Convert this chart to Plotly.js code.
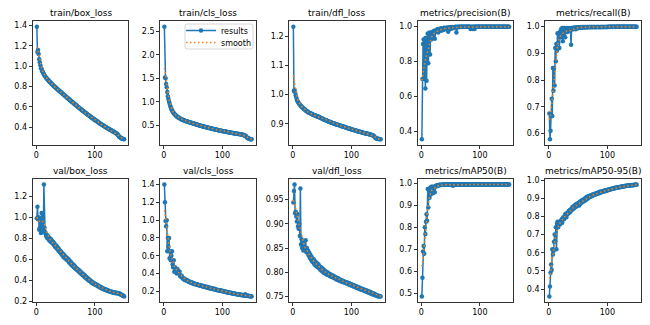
<!DOCTYPE html>
<html>
<head>
<meta charset="utf-8">
<script src="https://cdn.plot.ly/plotly-3.0.1.min.js"></script>
<style>html,body{margin:0;padding:0;background:#fff;}#chart{width:650px;height:325px;}</style>
</head>
<body>
<div id="chart"></div>
<script>
const titles = ["train/box_loss","train/cls_loss","train/dfl_loss","metrics/precision(B)","metrics/recall(B)",
                "val/box_loss","val/cls_loss","val/dfl_loss","metrics/mAP50(B)","metrics/mAP50-95(B)"];
const epochs = Array.from({length:150}, (_, i) => i + 1);
const xTicks = [0, 100];

const trainBox = [1.39,1.14,1.16,1.12,1.07,1.04,1.01,0.98,0.975,0.95,
0.945,0.93,0.925,0.91,0.905,0.895,0.885,0.88,0.872,0.865,
0.862,0.853,0.846,0.842,0.835,0.828,0.824,0.816,0.812,0.806,
0.80,0.796,0.79,0.783,0.781,0.774,0.77,0.766,0.759,0.755,
0.751,0.744,0.741,0.735,0.729,0.726,0.719,0.716,0.71,0.704,
0.701,0.694,0.69,0.686,0.679,0.676,0.669,0.666,0.66,0.654,
0.651,0.645,0.641,0.634,0.631,0.625,0.621,0.616,0.613,0.606,
0.602,0.597,0.593,0.587,0.583,0.578,0.574,0.568,0.565,0.56,
0.556,0.55,0.547,0.541,0.538,0.532,0.529,0.523,0.521,0.515,
0.511,0.506,0.503,0.497,0.494,0.489,0.486,0.48,0.478,0.472,
0.47,0.464,0.462,0.456,0.454,0.448,0.446,0.44,0.438,0.433,
0.431,0.425,0.423,0.417,0.416,0.41,0.408,0.403,0.401,0.396,
0.394,0.389,0.387,0.382,0.38,0.375,0.373,0.369,0.367,0.362,
0.36,0.356,0.353,0.349,0.347,0.342,0.339,0.334,0.329,0.322,
0.312,0.305,0.301,0.296,0.293,0.29,0.288,0.285,0.284,0.281];

const trainCls = [2.60,1.52,1.50,1.38,1.31,1.21,1.12,1.06,1.01,0.96,
0.92,0.88,0.85,0.82,0.80,0.78,0.76,0.745,0.73,0.72,
0.705,0.695,0.685,0.675,0.67,0.66,0.652,0.645,0.638,0.632,
0.625,0.62,0.614,0.61,0.604,0.6,0.595,0.59,0.586,0.582,
0.578,0.574,0.57,0.566,0.562,0.558,0.554,0.55,0.546,0.542,
0.538,0.534,0.53,0.526,0.522,0.518,0.515,0.511,0.507,0.503,
0.5,0.496,0.493,0.489,0.486,0.482,0.479,0.476,0.472,0.469,
0.466,0.463,0.459,0.456,0.453,0.45,0.447,0.444,0.441,0.438,
0.435,0.432,0.429,0.426,0.423,0.42,0.417,0.414,0.411,0.408,
0.405,0.402,0.399,0.397,0.394,0.391,0.388,0.386,0.383,0.38,
0.378,0.375,0.373,0.37,0.368,0.365,0.363,0.36,0.358,0.356,
0.353,0.351,0.349,0.346,0.344,0.342,0.34,0.337,0.335,0.333,
0.331,0.329,0.327,0.325,0.323,0.321,0.319,0.317,0.315,0.313,
0.311,0.309,0.306,0.303,0.3,0.296,0.292,0.287,0.281,0.272,
0.256,0.243,0.234,0.226,0.22,0.215,0.211,0.208,0.205,0.203];

const trainDfl = [1.232,1.012,1.016,1.008,0.998,0.99,0.982,0.978,0.975,0.971,
0.968,0.966,0.963,0.961,0.959,0.957,0.955,0.953,0.951,0.95,
0.948,0.946,0.945,0.943,0.942,0.94,0.939,0.938,0.937,0.936,
0.935,0.934,0.933,0.932,0.931,0.93,0.929,0.929,0.928,0.927,
0.926,0.925,0.925,0.924,0.923,0.922,0.921,0.92,0.919,0.918,
0.917,0.916,0.915,0.914,0.913,0.912,0.912,0.911,0.91,0.909,
0.908,0.907,0.907,0.906,0.905,0.904,0.904,0.903,0.902,0.901,
0.901,0.9,0.899,0.899,0.898,0.897,0.897,0.896,0.895,0.895,
0.894,0.893,0.893,0.892,0.891,0.891,0.89,0.889,0.889,0.888,
0.887,0.887,0.886,0.885,0.885,0.884,0.883,0.883,0.882,0.881,
0.881,0.88,0.88,0.879,0.878,0.878,0.877,0.877,0.876,0.875,
0.875,0.874,0.874,0.873,0.873,0.872,0.871,0.871,0.87,0.87,
0.869,0.869,0.868,0.868,0.867,0.867,0.866,0.866,0.865,0.865,
0.864,0.864,0.863,0.863,0.862,0.861,0.86,0.859,0.857,0.855,
0.852,0.851,0.85,0.849,0.849,0.848,0.848,0.848,0.847,0.847];

const precision = [0.355,0.70,0.90,0.925,0.70,0.93,0.645,0.935,0.69,0.85,
0.96,0.79,0.955,0.965,0.84,0.95,0.925,0.96,0.97,0.94,
0.965,0.975,0.93,0.97,0.975,0.98,0.97,0.985,0.965,0.98,
0.985,0.98,0.988,0.975,0.99,0.985,0.99,0.98,0.992,0.988,
0.985,0.993,0.99,0.988,0.994,0.97,0.992,0.995,0.99,0.985,
0.996,0.993,0.997,0.99,0.995,0.996,0.994,0.998,0.997,0.965,
0.997,0.998,0.996,0.998,0.997,0.999,0.998,0.997,0.999,0.998,
0.999,0.998,0.999,0.997,0.999,0.998,0.999,0.999,0.998,0.999,
0.999,0.998,0.999,0.985,0.999,0.988,0.999,0.986,0.998,0.999,
0.985,0.999,0.998,0.999,0.999,0.998,0.999,0.999,0.999,0.998,
0.999,0.999,0.998,0.999,0.999,0.999,0.998,0.999,0.999,0.999,
0.999,0.998,0.999,0.999,0.999,0.998,0.999,0.999,0.999,0.999,
0.998,0.999,0.999,0.999,0.999,0.998,0.999,0.999,0.999,0.999,
0.999,0.999,0.998,0.999,0.999,0.999,0.999,0.999,0.998,0.999,
0.999,0.999,0.999,0.999,0.999,0.998,0.999,0.999,0.999,0.999];

const recall = [0.675,0.578,0.61,0.67,0.73,0.665,0.845,0.76,0.845,0.78,
0.92,0.87,0.935,0.91,0.975,0.94,0.97,0.92,0.98,0.96,
0.99,0.97,0.995,0.945,0.99,0.97,0.995,0.96,0.99,0.985,
0.995,0.98,0.99,0.993,0.985,0.995,0.99,0.932,0.995,0.99,
0.995,0.99,0.997,0.993,0.996,0.99,0.997,0.995,0.998,0.994,
0.998,0.996,0.998,0.997,0.999,0.996,0.998,0.999,0.997,0.999,
0.998,0.999,0.997,0.999,0.998,0.999,0.999,0.998,0.999,0.999,
0.998,0.999,0.999,0.999,0.998,0.999,0.999,0.999,0.999,0.998,
0.999,0.999,0.999,0.999,0.999,0.999,0.998,0.999,0.999,0.999,
0.999,0.999,0.999,0.999,0.999,0.999,0.999,0.999,0.999,0.999,
1.0,0.999,1.0,1.0,0.999,1.0,1.0,1.0,0.999,1.0,
1.0,1.0,1.0,0.999,1.0,1.0,1.0,1.0,1.0,1.0,
1.0,1.0,1.0,1.0,1.0,1.0,1.0,1.0,1.0,1.0,
1.0,1.0,1.0,1.0,1.0,1.0,1.0,1.0,1.0,1.0,
1.0,1.0,1.0,1.0,1.0,1.0,1.0,1.0,1.0,1.0];

const valBox = [0.99,1.10,0.98,1.00,0.88,0.90,0.99,0.85,1.04,0.87,
1.03,0.86,1.31,0.90,0.86,0.84,0.82,0.83,0.80,0.82,
0.81,0.78,0.80,0.77,0.79,0.76,0.775,0.75,0.765,0.735,
0.75,0.72,0.735,0.71,0.725,0.695,0.71,0.68,0.695,0.67,
0.68,0.655,0.67,0.64,0.655,0.625,0.645,0.615,0.63,0.605,
0.62,0.595,0.61,0.585,0.6,0.57,0.585,0.56,0.575,0.545,
0.56,0.535,0.55,0.525,0.54,0.515,0.525,0.505,0.515,0.495,
0.505,0.485,0.495,0.475,0.485,0.465,0.475,0.455,0.465,0.445,
0.455,0.435,0.445,0.425,0.435,0.415,0.425,0.405,0.415,0.395,
0.405,0.39,0.395,0.38,0.387,0.372,0.38,0.365,0.372,0.36,
0.366,0.355,0.36,0.348,0.352,0.341,0.345,0.335,0.339,0.329,
0.333,0.323,0.327,0.318,0.321,0.312,0.316,0.307,0.312,0.303,
0.307,0.299,0.302,0.295,0.298,0.291,0.294,0.288,0.291,0.285,
0.288,0.282,0.285,0.28,0.283,0.278,0.281,0.276,0.279,0.274,
0.276,0.271,0.273,0.266,0.265,0.26,0.258,0.253,0.251,0.247];

const valCls = [1.40,1.20,0.99,0.93,1.00,0.65,0.80,0.70,0.80,0.57,
0.65,0.55,0.60,0.65,0.50,0.47,0.55,0.42,0.47,0.45,
0.44,0.40,0.45,0.41,0.43,0.40,0.42,0.37,0.38,0.36,
0.37,0.35,0.34,0.345,0.33,0.335,0.325,0.33,0.32,0.315,
0.32,0.31,0.305,0.31,0.30,0.298,0.295,0.30,0.29,0.288,
0.285,0.29,0.28,0.283,0.278,0.275,0.28,0.27,0.272,0.268,
0.265,0.27,0.262,0.26,0.265,0.255,0.258,0.252,0.25,0.255,
0.248,0.245,0.25,0.242,0.24,0.244,0.238,0.235,0.24,0.232,
0.23,0.234,0.228,0.225,0.23,0.222,0.22,0.224,0.218,0.215,
0.218,0.212,0.21,0.214,0.208,0.206,0.21,0.204,0.202,0.205,
0.2,0.198,0.2,0.195,0.193,0.196,0.19,0.188,0.19,0.186,
0.184,0.186,0.182,0.18,0.182,0.177,0.175,0.177,0.173,0.172,
0.174,0.17,0.168,0.17,0.166,0.164,0.166,0.162,0.16,0.163,
0.158,0.157,0.16,0.155,0.154,0.156,0.152,0.151,0.165,0.153,
0.15,0.149,0.151,0.147,0.146,0.148,0.145,0.144,0.143,0.142];

const valDfl = [0.944,0.968,0.981,0.922,0.925,0.915,0.905,0.92,0.895,0.89,
0.90,0.875,0.973,0.857,0.868,0.85,0.862,0.845,0.855,0.85,
0.848,0.866,0.842,0.85,0.84,0.845,0.835,0.84,0.83,0.836,
0.826,0.832,0.822,0.828,0.82,0.826,0.816,0.822,0.814,0.82,
0.812,0.818,0.81,0.816,0.808,0.812,0.805,0.81,0.803,0.808,
0.801,0.806,0.799,0.804,0.798,0.802,0.796,0.8,0.795,0.799,
0.794,0.797,0.792,0.796,0.791,0.794,0.79,0.793,0.789,0.792,
0.788,0.79,0.786,0.789,0.785,0.788,0.784,0.787,0.783,0.785,
0.782,0.784,0.781,0.783,0.78,0.782,0.779,0.781,0.778,0.78,
0.777,0.779,0.776,0.778,0.775,0.777,0.774,0.776,0.773,0.775,
0.772,0.774,0.771,0.773,0.77,0.772,0.769,0.771,0.768,0.77,
0.767,0.769,0.766,0.768,0.765,0.767,0.764,0.766,0.763,0.765,
0.762,0.764,0.761,0.763,0.76,0.762,0.759,0.761,0.758,0.76,
0.757,0.759,0.756,0.758,0.755,0.757,0.754,0.756,0.753,0.755,
0.753,0.752,0.753,0.751,0.752,0.75,0.751,0.75,0.751,0.75];

const map50 = [0.485,0.57,0.69,0.715,0.68,0.80,0.77,0.825,0.86,0.83,
0.975,0.89,0.975,0.935,0.98,0.95,0.985,0.97,0.985,0.955,
0.985,0.98,0.96,0.985,0.99,0.988,0.992,0.99,0.993,0.991,
0.994,0.993,0.994,0.993,0.994,0.994,0.995,0.994,0.995,0.994,
0.995,0.994,0.995,0.995,0.994,0.995,0.995,0.994,0.995,0.995,
0.995,0.994,0.995,0.99,0.995,0.995,0.994,0.995,0.995,0.995,
0.994,0.995,0.995,0.995,0.994,0.995,0.995,0.995,0.995,0.994,
0.995,0.995,0.995,0.995,0.994,0.995,0.995,0.995,0.995,0.995,
0.994,0.995,0.995,0.995,0.995,0.995,0.995,0.994,0.995,0.995,
0.995,0.995,0.995,0.995,0.995,0.994,0.995,0.995,0.995,0.995,
0.995,0.995,0.995,0.995,0.995,0.995,0.995,0.995,0.995,0.995,
0.995,0.995,0.995,0.995,0.995,0.995,0.995,0.995,0.995,0.995,
0.995,0.995,0.995,0.995,0.995,0.995,0.995,0.995,0.995,0.995,
0.995,0.995,0.995,0.995,0.995,0.995,0.995,0.995,0.995,0.995,
0.995,0.995,0.995,0.995,0.995,0.995,0.995,0.995,0.995,0.995];

const map5095 = [0.36,0.415,0.49,0.535,0.505,0.62,0.59,0.61,0.66,0.70,
0.665,0.74,0.62,0.76,0.77,0.74,0.765,0.77,0.755,0.765,
0.775,0.785,0.765,0.79,0.795,0.785,0.80,0.81,0.815,0.795,
0.81,0.82,0.815,0.83,0.82,0.835,0.825,0.84,0.835,0.85,
0.84,0.855,0.845,0.86,0.85,0.865,0.855,0.87,0.86,0.865,
0.875,0.86,0.88,0.87,0.885,0.875,0.89,0.88,0.885,0.895,
0.885,0.9,0.89,0.905,0.895,0.91,0.9,0.908,0.912,0.905,
0.915,0.91,0.918,0.912,0.92,0.916,0.922,0.918,0.925,0.92,
0.927,0.923,0.93,0.926,0.932,0.928,0.935,0.93,0.936,0.933,
0.938,0.935,0.94,0.937,0.942,0.939,0.944,0.941,0.945,0.943,
0.947,0.945,0.949,0.947,0.951,0.949,0.952,0.951,0.954,0.953,
0.955,0.954,0.957,0.956,0.958,0.957,0.96,0.959,0.961,0.96,
0.962,0.961,0.963,0.963,0.964,0.964,0.966,0.965,0.967,0.966,
0.968,0.967,0.969,0.968,0.97,0.969,0.971,0.97,0.971,0.971,
0.972,0.972,0.973,0.972,0.973,0.974,0.973,0.974,0.975,0.974];

const series = [trainBox, trainCls, trainDfl, precision, recall, valBox, valCls, valDfl, map50, map5095];
const yDticks = [0.2, 0.5, 0.1, 0.2, 0.1, 0.2, 0.2, 0.05, 0.1, 0.1];
const yFormats = [".1f",".1f",".1f",".1f",".1f",".1f",".1f",".2f",".1f",".1f"];

// gaussian smoothing (sigma=3, reflect mode), as in the original plotting routine
function gaussSmooth(y, sigma) {
  const r = Math.round(4 * sigma), n = y.length;
  const w = []; let s = 0;
  for (let k = -r; k <= r; k++) { const v = Math.exp(-0.5 * k * k / (sigma * sigma)); w.push(v); s += v; }
  return y.map((_, i) => {
    let acc = 0;
    for (let k = -r; k <= r; k++) {
      let j = i + k;
      while (j < 0 || j >= n) { if (j < 0) j = -j - 1; if (j >= n) j = 2 * n - j - 1; }
      acc += w[k + r] * y[j];
    }
    return acc / s;
  });
}

const W = 650, H = 325;
const cols = [[32.5,128.5],[160,256],[289,385],[417.5,513.5],[545,641]];
const rows = [[21,145],[179,302]];
const blue = "#1f77b4", orange = "#ff7f0e";
const tickFont = {family: "DejaVu Sans", size: 8, color: "#000"};
const legFont = {family: "DejaVu Sans", size: 8, color: "#000"};

// legend frame (two single-entry legends inside one matplotlib-like box)
const lb = {x0: 185, x1: 253, y0: 24, y1: 49, r: 2};
const px = v => v / W, py = v => 1 - v / H;
const framePath = "M" + px(lb.x0 + lb.r) + "," + py(lb.y0) +
  " L" + px(lb.x1 - lb.r) + "," + py(lb.y0) +
  " Q" + px(lb.x1) + "," + py(lb.y0) + " " + px(lb.x1) + "," + py(lb.y0 + lb.r) +
  " L" + px(lb.x1) + "," + py(lb.y1 - lb.r) +
  " Q" + px(lb.x1) + "," + py(lb.y1) + " " + px(lb.x1 - lb.r) + "," + py(lb.y1) +
  " L" + px(lb.x0 + lb.r) + "," + py(lb.y1) +
  " Q" + px(lb.x0) + "," + py(lb.y1) + " " + px(lb.x0) + "," + py(lb.y1 - lb.r) +
  " L" + px(lb.x0) + "," + py(lb.y0 + lb.r) +
  " Q" + px(lb.x0) + "," + py(lb.y0) + " " + px(lb.x0 + lb.r) + "," + py(lb.y0) + " Z";

const data = [];
const layout = {
  width: W, height: H, margin: {l: 0, r: 0, t: 0, b: 0},
  paper_bgcolor: "#fff", plot_bgcolor: "#fff",
  font: {family: "DejaVu Sans", size: 8, color: "#000"},
  showlegend: true,
  legend: {x: px(181), xanchor: "left", y: py(30.5), yanchor: "middle",
           bgcolor: "rgba(0,0,0,0)", borderwidth: 0, font: legFont, itemwidth: 30},
  legend2: {x: px(181), xanchor: "left", y: py(42.5), yanchor: "middle",
           bgcolor: "rgba(0,0,0,0)", borderwidth: 0, font: legFont, itemwidth: 30},
  shapes: [],
  annotations: []
};

series.forEach((y, i) => {
  const idx = i + 1;
  const xa = "x" + (idx > 1 ? idx : ""), ya = "y" + (idx > 1 ? idx : "");
  const sm = gaussSmooth(y, 3);
  data.push({x: epochs, y: y, xaxis: xa, yaxis: ya, type: "scatter", mode: "lines+markers",
    name: "results", showlegend: idx === 2, legend: "legend", line: {color: blue, width: 1.5},
    marker: {color: blue, size: 4.5}, hoverinfo: "skip"});
  data.push({x: epochs, y: sm, xaxis: xa, yaxis: ya, type: "scatter", mode: "lines",
    name: "smooth", showlegend: idx === 2, legend: "legend2", line: {color: orange, width: 1.5, dash: "1.5px,2.5px"},
    hoverinfo: "skip"});
  const all = y.concat(sm);
  const mn = Math.min(...all), mx = Math.max(...all), pad = (mx - mn) * 0.05;
  const c = cols[i % 5], r = rows[Math.floor(i / 5)];
  const axBase = {showline: true, mirror: true, linecolor: "#000", linewidth: 0.8,
    ticks: "outside", ticklen: 3, tickwidth: 0.8, tickcolor: "#000",
    showgrid: false, zeroline: false, tickfont: tickFont, fixedrange: true};
  layout["xaxis" + (idx > 1 ? idx : "")] = Object.assign({}, axBase, {
    domain: [c[0] / W, c[1] / W], anchor: ya, range: [1 - 7.45, 150 + 7.45],
    tickmode: "array", tickvals: xTicks, ticktext: xTicks.map(String)});
  layout["yaxis" + (idx > 1 ? idx : "")] = Object.assign({}, axBase, {
    domain: [1 - r[1] / H, 1 - r[0] / H], anchor: xa, range: [mn - pad, mx + pad],
    tick0: 0, dtick: yDticks[i], tickformat: yFormats[i]});
  layout.annotations.push({text: titles[i], xref: "paper", yref: "paper",
    x: (c[0] + c[1]) / 2 / W, y: 1 - r[0] / H, xanchor: "center", yanchor: "bottom",
    yshift: 1, showarrow: false, font: {family: "DejaVu Sans", size: 9, color: "#000"}});
});

layout.shapes.push({type: "path", xref: "paper", yref: "paper", path: framePath,
  fillcolor: "rgba(255,255,255,0.8)", line: {color: "#cccccc", width: 0.8}, layer: "above"});

Plotly.newPlot("chart", data, layout, {staticPlot: true, displayModeBar: false});
</script>
</body>
</html>
